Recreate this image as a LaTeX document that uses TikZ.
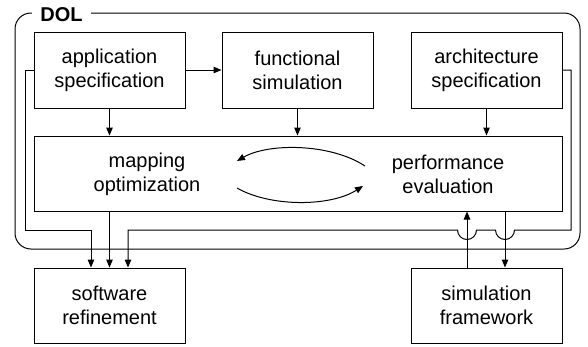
\documentclass[tikz,border=0pt]{standalone}
\usepackage{fontspec}
\setmainfont{Liberation Sans}
\usetikzlibrary{arrows.meta,calc}
\begin{document}
\begin{tikzpicture}[x=1pt,y=1pt,
  line width=1pt,
  blk/.style={draw, minimum width=151pt, minimum height=76pt, align=center, inner sep=0pt,
    font=\fontsize{20}{24}\selectfont},
  lbl/.style={align=center, inner sep=0pt, font=\fontsize{20}{24}\selectfont},
  arr/.style={-{Triangle[length=8pt,width=6.5pt]}}]
\useasboundingbox (0,0) rectangle (588,-346);
% outer DOL frame
\draw[rounded corners=16pt] (15,-13) rectangle (580,-249);
\node[fill=white, inner xsep=8pt, inner ysep=2pt, font=\fontsize{20}{24}\selectfont\bfseries] (dol) at (61.5,-15) {DOL};
% blocks
\node[blk] (app) at (109.5,-70) {application\\specification};
\node[blk] (fun) at (297.5,-70) {functional\\simulation};
\node[blk] (arch) at (486.5,-70) {architecture\\specification};
\node[draw, minimum width=528pt, minimum height=75pt, inner sep=0pt] (map) at (298,-173.5) {};
\node[lbl] (mo) at (147,-174) {mapping\\optimization};
\node[lbl] (pe) at (448,-174) {performance\\evaluation};
\node[blk, minimum height=75pt] (sw) at (109.5,-305.5) {software\\refinement};
\node[blk, minimum height=75pt] (sim) at (486.5,-305.5) {simulation\\framework};
% coordinates for curved arrows
\coordinate (t1) at (365,-166);
\coordinate (t2) at (237,-161);
\coordinate (b1) at (237,-188);
\coordinate (b2) at (363,-186);
\coordinate (lx) at (25,-230);
\coordinate (rx) at (571,-230);
% arrows inside DOL
\draw[arr] (app.east) -- (fun.west);
\draw[arr] (app.south) -- (app.south |- map.north);
\draw[arr] (fun.south) -- (fun.south |- map.north);
\draw[arr] (arch.south) -- (arch.south |- map.north);
\draw[arr] (t1) .. controls (330,-143) and (268,-143) .. (t2);
\draw[arr] (b1) .. controls (270,-207) and (330,-207) .. (b2);
% to software refinement
\draw[arr] (app.west) -| (lx) -| ([xshift=-18.5pt]sw.north);
\draw[arr] (map.south -| sw.north) -- (sw.north);
\draw[arr] (arch.east) -| (rx) -- (514.5,-230) arc (0:-180:9.5) -- (476.5,-230) arc (0:-180:9.5)
  -- (128,-230) -- ([xshift=18.5pt]sw.north);
% simulation framework
\draw[arr] ([xshift=-19.5pt]sim.north) -- ([xshift=-19.5pt]sim.north |- map.south);
\draw[arr] ([xshift=18.5pt]sim.north |- map.south) -- ([xshift=18.5pt]sim.north);
\end{tikzpicture}
\end{document}
